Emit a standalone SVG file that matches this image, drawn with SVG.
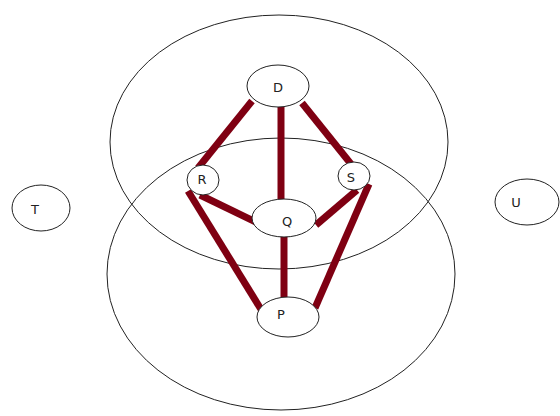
<svg xmlns="http://www.w3.org/2000/svg" width="560" height="416" viewBox="0 0 560 416">
<style>
.big{fill:none;stroke:#222;stroke-width:1}
.node{fill:#fff;stroke:#222;stroke-width:1}
.lbl{font-family:"DejaVu Sans",sans-serif;font-size:13px;fill:#222;text-anchor:middle;dominant-baseline:central}
.e{stroke:#7f0012;stroke-width:7;stroke-linecap:butt}
</style>
<rect width="560" height="416" fill="#fff"/>
<g id="regions">
<ellipse class="big" cx="279" cy="142" rx="169" ry="127"/>
<ellipse class="big" cx="281" cy="274" rx="174" ry="136"/>
</g>
<g id="connectors">
<line class="e" x1="252" y1="101" x2="198" y2="168"/>
<line class="e" x1="281" y1="107" x2="281" y2="200"/>
<line class="e" x1="302" y1="103" x2="351" y2="164"/>
<line class="e" x1="200" y1="195" x2="258" y2="223"/>
<line class="e" x1="357" y1="190" x2="316" y2="225"/>
<line class="e" x1="188" y1="191" x2="262" y2="311"/>
<line class="e" x1="369" y1="184" x2="315" y2="308"/>
<line class="e" x1="284" y1="236" x2="284" y2="297"/>
</g>
<g id="D"><ellipse class="node" cx="278" cy="86" rx="31" ry="21"/><text class="lbl" x="278" y="87">D</text></g>
<g id="R"><ellipse class="node" cx="203" cy="180" rx="16" ry="15"/><text class="lbl" x="202" y="179">R</text></g>
<g id="S"><ellipse class="node" cx="354" cy="176" rx="16" ry="14"/><text class="lbl" x="351" y="177">S</text></g>
<g id="Q"><ellipse class="node" cx="284" cy="218" rx="32" ry="19"/><text class="lbl" x="287" y="221">Q</text></g>
<g id="P"><ellipse class="node" cx="288" cy="317" rx="31" ry="20"/><text class="lbl" x="281" y="314">P</text></g>
<g id="T"><ellipse class="node" cx="41" cy="208" rx="29" ry="23"/><text class="lbl" x="35" y="209">T</text></g>
<g id="U"><ellipse class="node" cx="527" cy="202" rx="32" ry="23"/><text class="lbl" x="516" y="202">U</text></g>
</svg>
